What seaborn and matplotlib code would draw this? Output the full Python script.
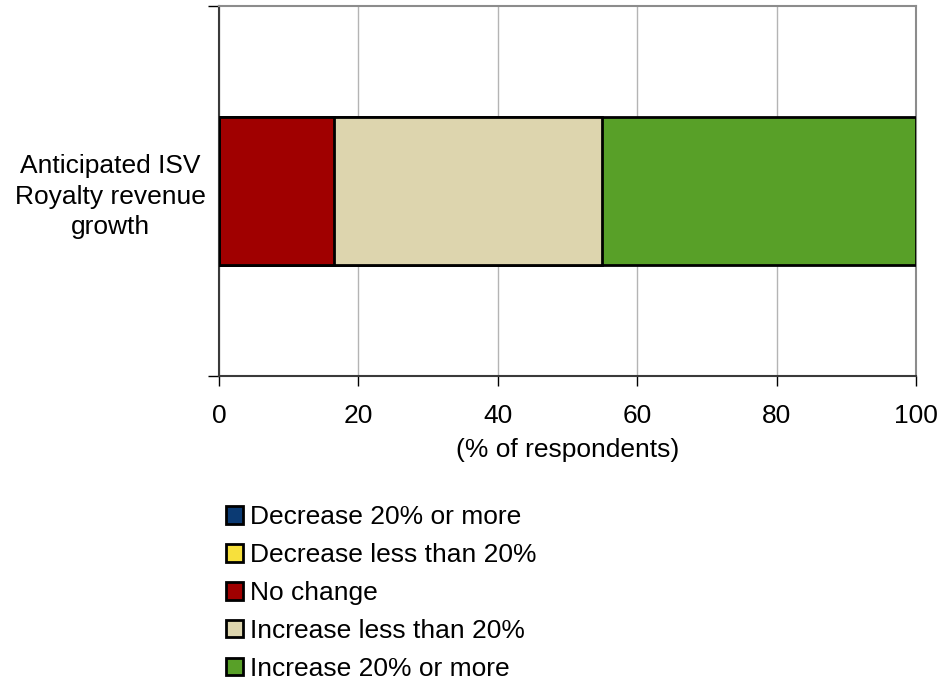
import matplotlib
matplotlib.use('Agg')
import matplotlib.pyplot as plt
import seaborn as sns
import numpy as np
from matplotlib.patches import Patch
from matplotlib.ticker import FixedLocator

sns.set_style('white')
plt.rcParams['font.family'] = ['Liberation Sans', 'DejaVu Sans']
plt.rcParams['text.color'] = 'black'
plt.rcParams['axes.labelcolor'] = 'black'
plt.rcParams['xtick.color'] = 'black'
plt.rcParams['ytick.color'] = 'black'

# Data
category = 'Anticipated ISV\nRoyalty revenue\ngrowth'
segments = ['Decrease 20% or more', 'Decrease less than 20%', 'No change',
            'Increase less than 20%', 'Increase 20% or more']
shares = [0.0, 0.0, 16.5, 38.5, 45.0]
colors = ['#0b3a73', '#f7e03c', '#a00000', '#ddd5ae', '#58a028']

cum = np.cumsum(shares)

fig = plt.figure(figsize=(9.41, 6.81), dpi=100)
ax = fig.add_axes([0.2327, 0.4479, 0.7407, 0.5433])

# stacked bar: draw cumulative totals back to front
for total, color in reversed(list(zip(cum, colors))):
    sns.barplot(x=[total], y=[category], orient='h', color=color, saturation=1,
                width=0.4, edgecolor='black', linewidth=2, ax=ax, zorder=3)

ax.set_xlim(0, 100)
ax.set_xticks(range(0, 101, 20))
ax.grid(axis='x', color='#b4b4b4', linewidth=1, zorder=0)
ax.set_axisbelow(True)
ax.tick_params(axis='x', labelsize=19, direction='out', length=7, width=1,
               color='black', labelcolor='black', pad=13.5, bottom=True)
ax.set_xlabel('(% of respondents)', fontsize=19, labelpad=7, color='black')
ax.set_ylabel('')
ax.set_ylim(0.5, -0.5)
ax.set_yticks([0])
ax.set_yticklabels([category], fontsize=19, ha='center', multialignment='center',
                   color='black', linespacing=1.33)
ax.tick_params(axis='y', which='major', length=0, pad=78)
ax.yaxis.set_minor_locator(FixedLocator([-0.5, 0.5]))
ax.tick_params(axis='y', which='minor', left=True, length=8, width=1, color='black')

for side in ['top', 'right']:
    ax.spines[side].set_color('#8c8c8c')
    ax.spines[side].set_linewidth(1.5)
for side in ['left', 'bottom']:
    ax.spines[side].set_color('#3a3a3a')
    ax.spines[side].set_linewidth(1.5)

handles = [Patch(facecolor=c, edgecolor='black', linewidth=2, label=s)
           for s, c in zip(segments, colors)]
leg = fig.legend(handles=handles, loc='upper left',
                 bbox_to_anchor=(226 / 941, 1 - 505 / 681),
                 frameon=False, fontsize=19, handlelength=0.65, handleheight=0.65,
                 handletextpad=0.25, labelspacing=0.53, borderpad=0, borderaxespad=0)
for t in leg.get_texts():
    t.set_color('black')

fig.savefig('out.png', dpi=100)
